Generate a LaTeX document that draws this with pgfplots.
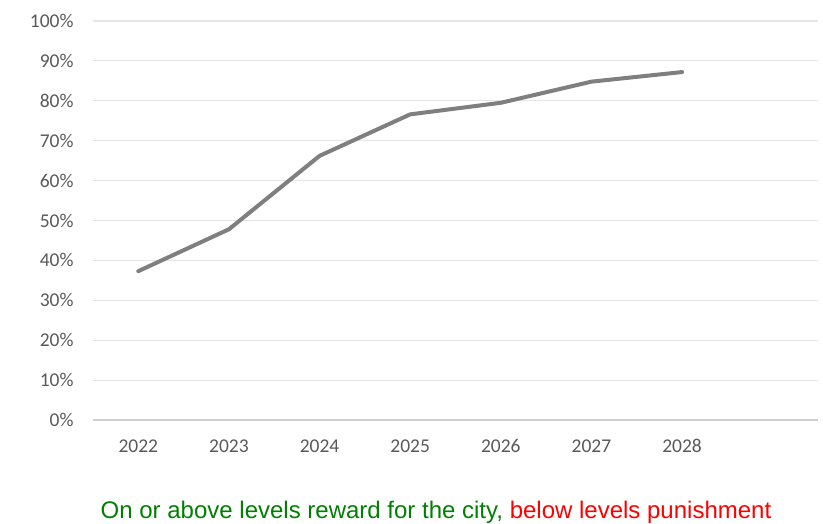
\documentclass[border=0pt]{standalone}
\usepackage{pgfplots}
\pgfplotsset{compat=1.18}
\usepackage{fontspec}
\setmainfont{Carlito}
\newfontfamily\arialfont{Liberation Sans}
\definecolor{ticktext}{HTML}{595959}
\definecolor{gridc}{HTML}{E6E6E6}
\definecolor{axisc}{HTML}{D0D0D0}
\definecolor{linec}{HTML}{7F7F7F}
\definecolor{greentext}{HTML}{008000}
\definecolor{redtext}{HTML}{FF0000}
\begin{document}
\begin{tikzpicture}[x=1pt,y=1pt]
\path[use as bounding box] (0,0) rectangle (823,523);
\begin{axis}[
  at={(93pt,103pt)}, anchor=south west,
  scale only axis, width=725pt, height=399pt,
  xmin=-0.5, xmax=7.5, ymin=0, ymax=100,
  xtick={0,1,2,3,4,5,6}, xticklabels={2022,2023,2024,2025,2026,2027,2028},
  ytick={0,10,...,100},
  yticklabel={\pgfmathprintnumber{\tick}\%},
  /pgf/number format/assume math mode=true,
  axis line style={draw=none},
  major tick length=0pt,
  ymajorgrids, grid style={gridc, line width=1.1pt},
  tick label style={font=\fontsize{19.5}{22}\selectfont, text=ticktext},
  yticklabel style={xshift=-16pt},
  xticklabel style={anchor=base, yshift=-32pt},
  clip=false,
]
\addplot[draw=axisc, line width=1.3pt, forget plot] coordinates {(-0.5,0) (7.5,0)};
\addplot[linec, line width=4pt, line join=round, line cap=round] coordinates {
(0,37.3) (1,47.8) (2,66.2) (3,76.6) (4,79.5) (5,84.8) (6,87.2)};
\end{axis}
\node[anchor=base, font=\arialfont\fontsize{24}{28}\selectfont] at (436,5) {\textcolor{greentext}{On or above levels reward for the city,} \textcolor{redtext}{below levels punishment}};
\end{tikzpicture}
\end{document}
